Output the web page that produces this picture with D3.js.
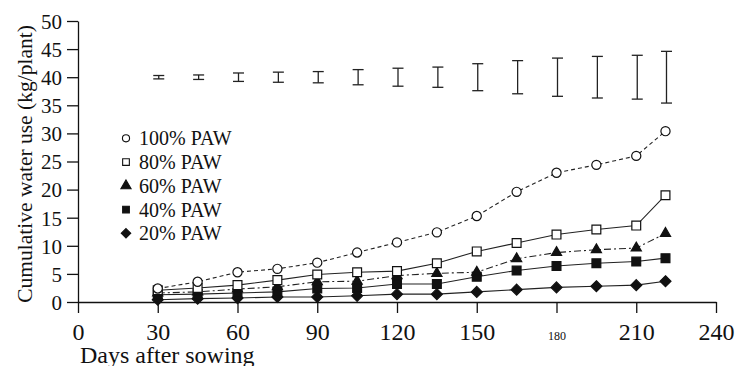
<!DOCTYPE html>
<meta charset="UTF-8">
<style>
  body { margin: 0; background: #fff; }
  .axis path, .axis line { stroke: #111; stroke-width: 1.3px; }
  .line { fill: none; stroke: #222; stroke-width: 1.1px; }
</style>
<body>
<svg id="chart" width="735" height="366"></svg>
<script src="https://d3js.org/d3.v7.min.js"></script>
<script>
// days after sowing for each reading
var days = [30, 45, 60, 75, 90, 105, 120, 135, 150, 165, 180, 195, 210, 221];

// cumulative water use (kg/plant)
var paw100 = [2.4, 3.6, 5.3, 5.9, 7.0, 8.8, 10.6, 12.4, 15.3, 19.6, 23.0, 24.4, 26.0, 30.4];
var paw80  = [2.1, 2.5, 3.0, 3.9, 4.9, 5.3, 5.5, 6.9, 9.0, 10.5, 12.0, 12.9, 13.6, 19.0];
var paw60  = [1.6, 1.8, 2.3, 2.7, 3.6, 3.7, 4.7, 5.1, 5.3, 7.7, 8.8, 9.3, 9.6, 12.2];
var paw40  = [1.3, 1.4, 1.6, 1.8, 2.4, 2.5, 3.2, 3.2, 4.5, 5.6, 6.4, 6.9, 7.2, 7.8];
var paw20  = [0.4, 0.6, 0.7, 0.9, 0.9, 1.1, 1.4, 1.4, 1.8, 2.2, 2.6, 2.8, 3.0, 3.7];

// error bars drawn at y = 40, half-widths
var errCenter = 40;
var errHalf = [0.3, 0.4, 0.75, 0.9, 1.0, 1.35, 1.6, 1.8, 2.4, 2.95, 3.4, 3.7, 3.9, 4.6];

var xTicks = [0, 30, 60, 90, 120, 150, 180, 210, 240];
var yTicks = [0, 5, 10, 15, 20, 25, 30, 35, 40, 45, 50];

var seriesNames = ["100% PAW", "80% PAW", "60% PAW", "40% PAW", "20% PAW"];
var seriesData = [paw100, paw80, paw60, paw40, paw20];
var seriesDash = ["4,3", null, "7,3,2,3", null, null];
var seriesSymbol = ["circle", "square", "triangle", "square", "diamond"];
var seriesFilled = [false, false, true, true, true];

var serif = "'Liberation Serif'";

var svg = d3.select("#chart");

var x = d3.scaleLinear().domain([0, 240]).range([78, 716]);
var y = d3.scaleLinear().domain([0, 50]).range([302, 21]);

// y axis
var yAxis = svg.append("g")
    .attr("class", "axis")
    .attr("transform", "translate(" + x(0) + ",0)")
    .call(d3.axisLeft(y).tickValues(yTicks).tickSize(11).tickPadding(5).tickSizeOuter(0));
yAxis.selectAll("text")
    .style("font-family", serif)
    .style("font-size", "21px")
    .attr("fill", "#111")
    .attr("dy", "0.35em");

// x axis
var xAxis = svg.append("g")
    .attr("class", "axis")
    .attr("transform", "translate(0," + y(0) + ")")
    .call(d3.axisBottom(x).tickValues(xTicks).tickSize(11).tickPadding(10).tickSizeOuter(0));
xAxis.selectAll("text")
    .style("font-family", serif)
    .style("font-size", function(d) { return d === 180 ? "12px" : "24px"; })
    .attr("fill", "#111")
    .attr("dy", function(d) { return d === 180 ? "1.45em" : "0.71em"; });

// axis titles
svg.append("text")
    .attr("transform", "translate(32,164) rotate(-90)")
    .attr("text-anchor", "middle")
    .style("font-family", serif)
    .style("font-size", "21.5px")
    .attr("fill", "#111")
    .text("Cumulative water use (kg/plant)");

svg.append("text")
    .attr("x", 80)
    .attr("y", 363)
    .style("font-family", serif)
    .style("font-size", "24px")
    .attr("fill", "#111")
    .text("Days after sowing");

// error bars
var eb = svg.append("g").attr("class", "errbars");
days.forEach(function(d, i) {
  var cx = x(d) + 1;
  var top = y(errCenter + errHalf[i]), bot = y(errCenter - errHalf[i]);
  eb.append("line").attr("x1", cx).attr("x2", cx).attr("y1", top).attr("y2", bot)
    .attr("stroke", "#222").attr("stroke-width", 1.3);
  [top, bot].forEach(function(yy) {
    eb.append("line").attr("x1", cx - 5.5).attr("x2", cx + 5.5).attr("y1", yy).attr("y2", yy)
      .attr("stroke", "#222").attr("stroke-width", 1.3);
  });
});

var line = d3.line()
    .x(function(d) { return x(d[0]); })
    .y(function(d) { return y(d[1]); });

// square diamond (d3's own diamond is too tall)
var squareDiamond = {
  draw: function(ctx, size) {
    var r = Math.sqrt(size / 2);
    ctx.moveTo(0, -r);
    ctx.lineTo(r, 0);
    ctx.lineTo(0, r);
    ctx.lineTo(-r, 0);
    ctx.closePath();
  }
};

var symbolType = {
  circle: d3.symbolCircle,
  square: d3.symbolSquare,
  triangle: d3.symbolTriangle,
  diamond: squareDiamond
};

function symbolSize(name) {
  if (name === "circle") return 66;
  if (name === "square") return 78;
  if (name === "triangle") return 45;
  return 60;
}

// draw in reverse so 100% sits on top
for (var s = seriesData.length - 1; s >= 0; s--) {
  var pts = days.map(function(d, i) { return [d, seriesData[s][i]]; });
  var path = svg.append("path")
      .datum(pts)
      .attr("class", "line")
      .attr("d", line);
  if (seriesDash[s]) path.attr("stroke-dasharray", seriesDash[s]);

  var sym = d3.symbol().type(symbolType[seriesSymbol[s]]).size(symbolSize(seriesSymbol[s]));
  svg.append("g").selectAll("path")
    .data(pts)
    .enter().append("path")
      .attr("d", sym)
      .attr("transform", function(d) { return "translate(" + x(d[0]) + "," + y(d[1]) + ")"; })
      .attr("fill", seriesFilled[s] ? "#111" : "#fff")
      .attr("stroke", "#111")
      .attr("stroke-width", 1.2);
}

// legend
var legend = svg.append("g").attr("class", "legend");
seriesNames.forEach(function(name, i) {
  var ly = 138.3 + i * 23.75;
  var sym = d3.symbol().type(symbolType[seriesSymbol[i]])
      .size(seriesSymbol[i] === "circle" ? 40 : 45);
  legend.append("path")
    .attr("d", sym)
    .attr("transform", "translate(126," + ly + ")")
    .attr("fill", seriesFilled[i] ? "#111" : "#fff")
    .attr("stroke", "#111")
    .attr("stroke-width", 1.1);
  legend.append("text")
    .attr("x", 139)
    .attr("y", ly)
    .attr("dy", "0.35em")
    .style("font-family", serif)
    .style("font-size", "20px")
    .attr("fill", "#111")
    .text(name);
});
</script>
</body>
